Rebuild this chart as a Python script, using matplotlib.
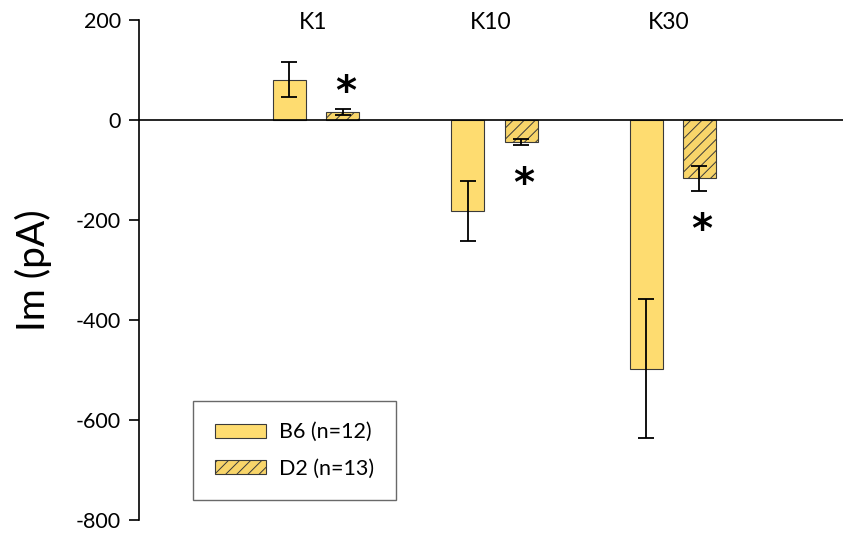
import matplotlib
matplotlib.use("Agg")
import matplotlib.pyplot as plt
import numpy as np

# Membrane current responses per KCl concentration
groups = ["K1", "K10", "K30"]
b6_mean = [80, -182, -498]
b6_err = [35, 60, 139]
d2_mean = [16, -44, -117]
d2_err = [6, 6, 25]
series_labels = ["B6 (n=12)", "D2 (n=13)"]
significant = [True, True, True]
yticks = [200, 0, -200, -400, -600, -800]

plt.rcParams["font.family"] = ["Lato", "DejaVu Sans"]
plt.rcParams["hatch.linewidth"] = 0.7
plt.rcParams["hatch.color"] = "#333333"

fig = plt.figure(figsize=(8.43, 5.33), dpi=100)
ax = fig.add_axes([0.1649, 0.0244, 0.8351, 0.9381])

x = np.arange(len(groups))
w = 0.185
off = 0.15
fill = "#FEDC70"
edge = "#3a3a3a"

ax.bar(x - off, b6_mean, w, color=fill, edgecolor=edge, linewidth=0.8,
       label=series_labels[0], zorder=2)
ax.bar(x + off, d2_mean, w, color="#F8D56A", edgecolor=edge, linewidth=0.8,
       hatch="///", label=series_labels[1], zorder=2)

ax.errorbar(x - off, b6_mean, yerr=b6_err, fmt="none", ecolor="black",
            elinewidth=1.3, capsize=5.5, capthick=1.3, zorder=3)
ax.errorbar(x + off, d2_mean, yerr=d2_err, fmt="none", ecolor="black",
            elinewidth=1.3, capsize=5.5, capthick=1.3, zorder=3)

ax.axhline(0, color="black", linewidth=1.2, zorder=4)

# significance markers
for i, sig in enumerate(significant):
    if not sig:
        continue
    m, e = d2_mean[i], d2_err[i]
    if m > 0:
        ypos = m + e + 32
    else:
        ypos = m - e - 80
    ax.text(x[i] + off + 0.015, ypos, "*", ha="center", va="center",
            fontsize=29, family="DejaVu Sans", fontweight="bold")

# group labels along the top
for i, g in enumerate(groups):
    ax.text(x[i] - 0.02, 195, g, ha="center", va="center", fontsize=16.5)

ax.set_ylim(-800, 200)
ax.set_xlim(-0.994, 2.955)
ax.set_yticks(yticks)
ax.set_yticklabels([str(t) for t in yticks], fontsize=15.5)
ax.set_xticks([])
for s in ["top", "right", "bottom"]:
    ax.spines[s].set_visible(False)
ax.spines["left"].set_linewidth(1.2)
ax.tick_params(axis="y", direction="out", length=7, width=1.2, pad=6)

fig.text(0.040, 0.493, "Im (pA)", rotation=90, ha="center", va="center",
         fontsize=28)

leg = ax.legend(loc="lower left", bbox_to_anchor=(0.0767, 0.04),
                frameon=True, fancybox=False, fontsize=15.5,
                handlelength=2.4, handleheight=0.6, borderpad=1.0,
                labelspacing=0.75, handletextpad=0.6, borderaxespad=0)
leg.get_frame().set_edgecolor("#444444")
leg.get_frame().set_linewidth(1.0)

fig.savefig("out.png", dpi=100)
